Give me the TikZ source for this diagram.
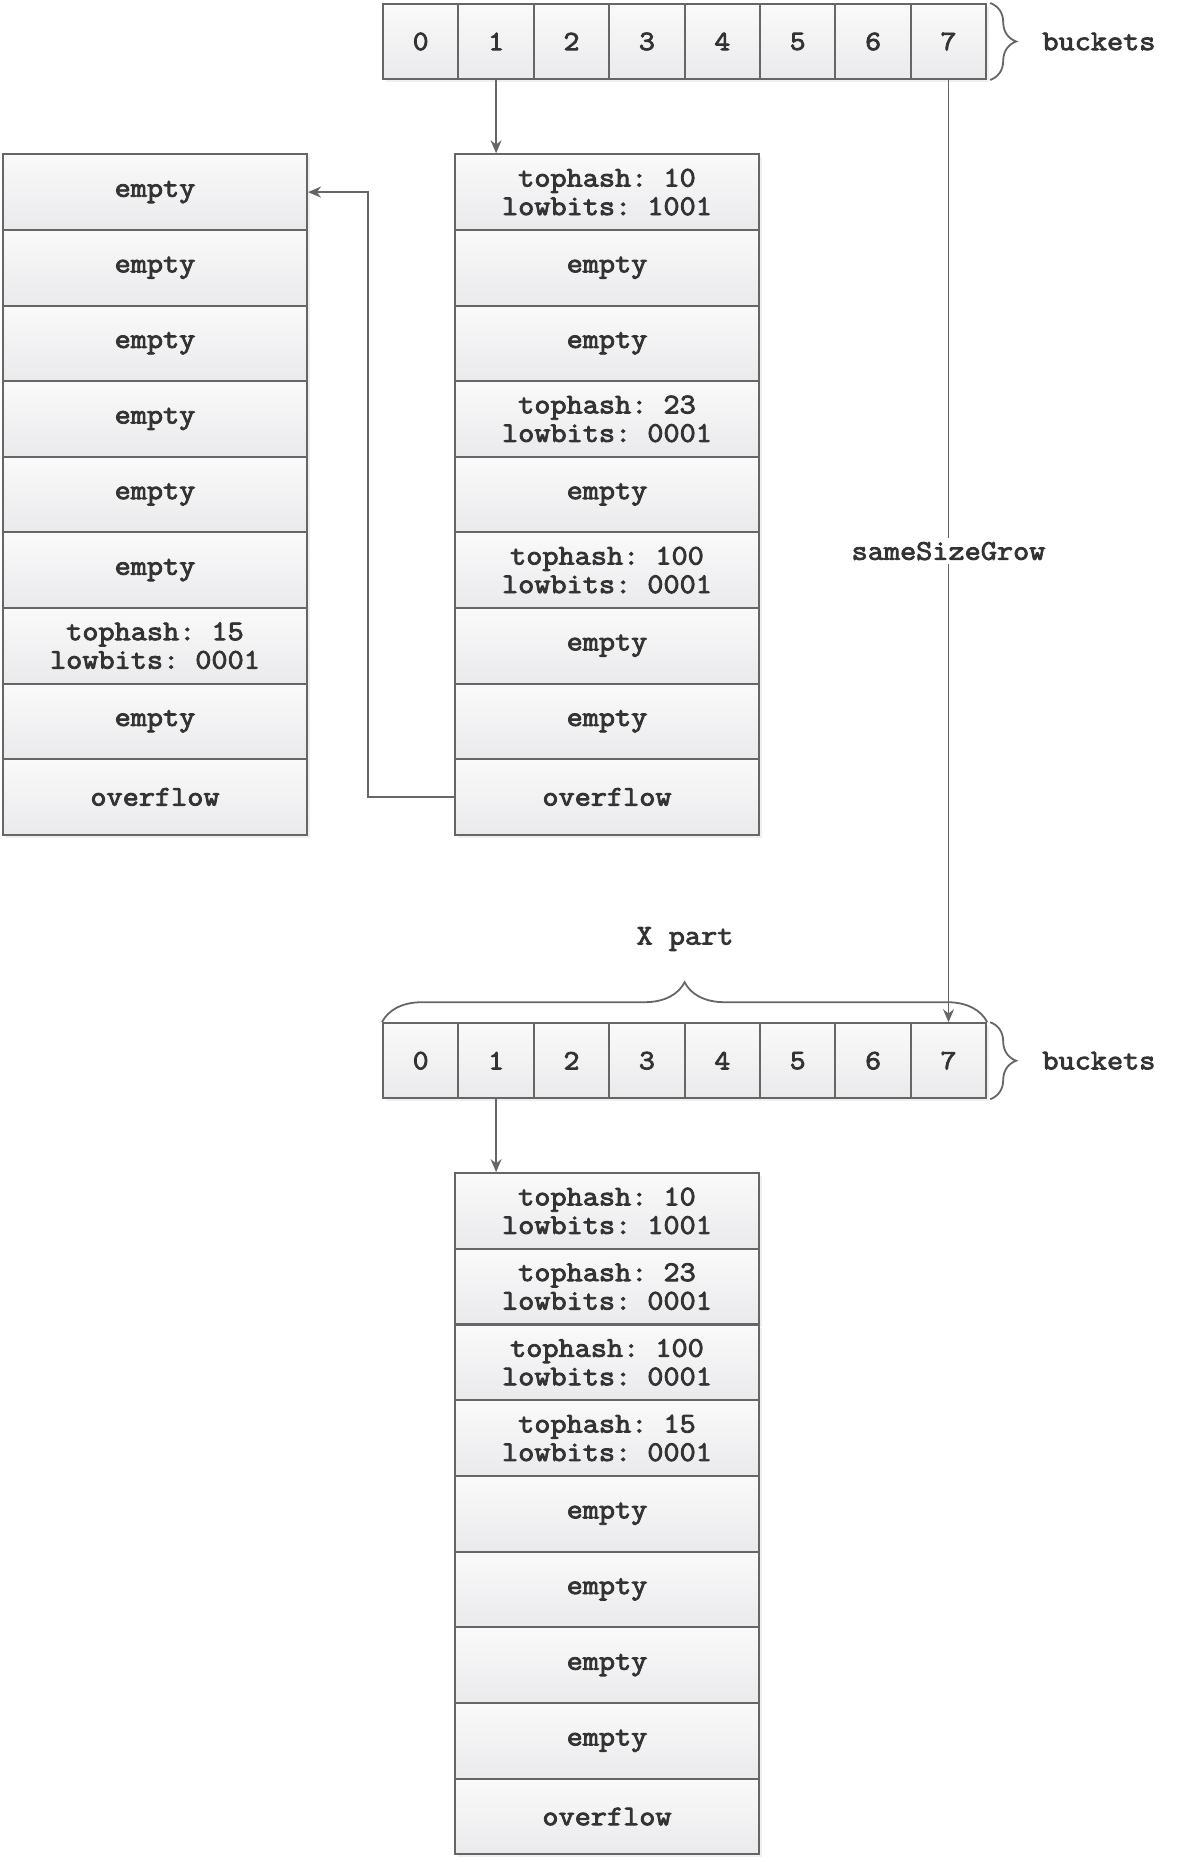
\documentclass[tikz,border=0pt]{standalone}
\usepackage{fontspec}
\setmonofont{Latin Modern Mono}[FakeStretch=1.1, AutoFakeBold=3]
\usetikzlibrary{arrows.meta,decorations.pathreplacing,shadows}
\definecolor{celltop}{HTML}{FAFAFB}
\definecolor{cellbot}{HTML}{EAEAEC}
\definecolor{edge}{HTML}{666666}
\definecolor{ink}{HTML}{333333}
\tikzset{%
	lbl/.style    = {text=ink, inner sep=2pt, font=\ttfamily\bfseries\fontsize{28.5}{28.5}\selectfont},
	cell/.style   = {lbl, draw=edge, line width=2pt, top color=celltop, bottom color=cellbot, minimum width=304pt, minimum height=75.6pt, inner sep=0pt, align=center, drop shadow={shadow xshift=3pt, shadow yshift=-3pt, opacity=0.12}},
	bucket/.style = {cell, minimum width=75.4pt, minimum height=75pt, font=\ttfamily\bfseries\fontsize{28}{28}\selectfont},
	arrow/.style  = {draw=edge, line width=1.7pt, -{Stealth[length=13pt,width=11pt]}},
	curly/.style  = {draw=edge, line width=1.8pt, decorate, decoration={brace, amplitude=#1}},
	curly/.default = 26pt,
}
\begin{document}
\begin{tikzpicture}[x=1pt,y=-1pt]
	\useasboundingbox (0,0) rectangle (1186,1862);
	
	\foreach \i in {0,...,7} \node[bucket] (t\i) at ({420.7+75.4*\i},41.5) {\i};
	\foreach \i in {0,...,7} \node[bucket] (b\i) at ({420.7+75.4*\i},1060.7) {\i};
	
	\foreach \txt [count=\r] in {{tophash: 10\\lowbits: 1001}, empty, empty, {tophash: 23\\lowbits: 0001}, empty, {tophash: 100\\lowbits: 0001}, empty, empty, overflow} \node[cell] (m\r) at (607,{116.5+75.6*\r}) {\txt};
	
	\foreach \txt [count=\r] in {empty, empty, empty, empty, empty, empty, {tophash: 15\\lowbits: 0001}, empty, overflow} \node[cell] (l\r) at (155,{116.5+75.6*\r}) {\txt};
	
	\foreach \txt [count=\r] in {{tophash: 10\\lowbits: 1001}, {tophash: 23\\lowbits: 0001}, {tophash: 100\\lowbits: 0001}, {tophash: 15\\lowbits: 0001}, empty, empty, empty, empty, overflow} \node[cell] (k\r) at (607,{1135.2+75.7*\r}) {\txt};
	
	\draw[curly] ([xshift=3pt]t7.north east) -- ([xshift=3pt]t7.south east);
	\node[lbl, anchor=west] (tb) at ([xshift=53pt]t7.east) {buckets};
	\draw[curly] ([xshift=3pt]b7.north east) -- ([xshift=3pt]b7.south east);
	\node[lbl, anchor=west] (bb) at ([xshift=53pt]b7.east) {buckets};
	
	\draw[curly=40pt] (b0.north west) -- (b7.north east);
	\node[lbl] (xp) at (685,939) {X part};
	
	\draw[arrow] (t1.south) -- (m1.north -| t1.south);
	\draw[arrow] (m9.west) -- ++(-86pt,0) |- (l1.east);
	\draw[arrow] (t7.south) -- node[lbl, fill=white, inner sep=4pt] (grow) {sameSizeGrow} (b7.north);
	\draw[arrow] (b1.south) -- (k1.north -| b1.south);
\end{tikzpicture}
\end{document}
